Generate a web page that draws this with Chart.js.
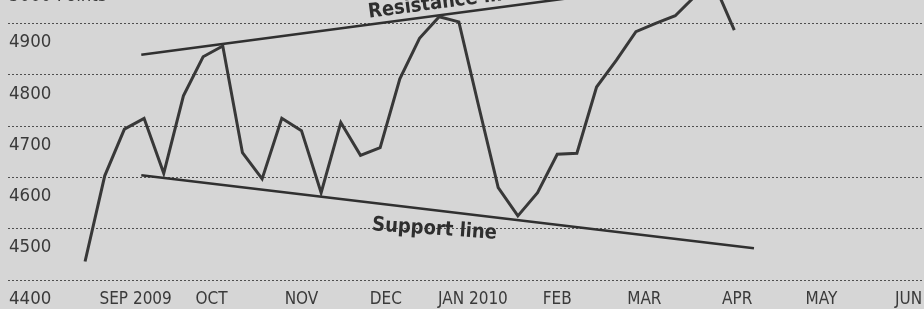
<!DOCTYPE html>
<html><head><meta charset="utf-8">
<script src="https://cdn.jsdelivr.net/npm/chart.js@4.4.1/dist/chart.umd.min.js"></script>
<style>
html,body{margin:0;padding:0;background:#d6d6d6;}
#wrap{position:relative;width:924px;height:309px;overflow:hidden;background:#d6d6d6;}
#c{position:absolute;left:0;top:-40px;}
</style></head><body>
<div id="wrap"><canvas id="c" width="924" height="349"></canvas></div>
<script>
// Weekly closes (Fridays)
const weekDates = ['2009-08-28','2009-09-04','2009-09-11','2009-09-18','2009-09-25',
  '2009-10-02','2009-10-09','2009-10-16','2009-10-23','2009-10-30',
  '2009-11-06','2009-11-13','2009-11-20','2009-11-27',
  '2009-12-04','2009-12-11','2009-12-18','2009-12-25',
  '2010-01-01','2010-01-08','2010-01-15','2010-01-22','2010-01-29',
  '2010-02-05','2010-02-12','2010-02-19','2010-02-26',
  '2010-03-05','2010-03-12','2010-03-19','2010-03-26',
  '2010-04-02','2010-04-09','2010-04-16'];
const closeValues = [4436,4603,4694,4715,4608,4759,4835,4856,4648,4597,
  4715,4691,4570,4707,4643,4658,4792,4871,4913,4903,
  4740,4580,4525,4570,4645,4647,4776,4828,4884,4900,
  4915,4953,4975,4887];
// Trend lines
const resistanceDates = ['2009-09-17','2010-04-16'];
const resistanceValues = [4839,4992];
const supportDates = ['2009-09-17','2010-04-23'];
const supportValues = [4604,4462];
// Axis ticks
const monthTickDates = ['2009-09-15','2009-10-12','2009-11-13','2009-12-13','2010-01-13',
  '2010-02-12','2010-03-15','2010-04-17','2010-05-17','2010-06-17'];
const monthTickLabels = ['SEP 2009','OCT','NOV','DEC','JAN 2010','FEB','MAR','APR','MAY','JUN'];
const yTickValues = [4400,4500,4600,4700,4800,4900,5000];
const yTopLabel = '5000 Points';
const xStartDate = '2009-07-31T14:00:00Z';
const xEndDate = '2010-06-22T12:00:00Z';

const day = s => Date.parse(s.length===10 ? s+'T00:00:00Z' : s)/864e5;
const pts = (ds, vs) => ds.map((d,i)=>({x:day(d), y:vs[i]}));

const FONT = "'DejaVu Sans Condensed','Liberation Sans Narrow',sans-serif";
const INK = '#3a3a3a';

const annotations = [
  {text:'Resistance line', date:'2009-12-07', value:4911, alongLine:[resistanceDates,resistanceValues]},
  {text:'Support line', date:'2009-12-08', value:4497, angleDeg:4}
];

const annotPlugin = {
  id:'annot',
  afterDatasetsDraw(chart){
    const {ctx, scales:{x,y}} = chart;
    ctx.save();
    // unit label for the top (5000) tick, sitting just under its gridline
    ctx.fillStyle = INK;
    ctx.font = "18.5px " + FONT;
    ctx.textAlign = 'left';
    ctx.textBaseline = 'alphabetic';
    ctx.fillText(yTopLabel, x.left + 1, y.getPixelForValue(5000) + 29);

    ctx.fillStyle = '#2e2e2e';
    ctx.font = "bold 20px " + FONT;
    annotations.forEach(a=>{
      let ang;
      if (a.alongLine){
        const [ds,vs] = a.alongLine;
        const x1=x.getPixelForValue(day(ds[0])), y1=y.getPixelForValue(vs[0]);
        const x2=x.getPixelForValue(day(ds[1])), y2=y.getPixelForValue(vs[1]);
        ang = Math.atan2(y2-y1, x2-x1);
      } else ang = a.angleDeg*Math.PI/180;
      const px = x.getPixelForValue(day(a.date)), py = y.getPixelForValue(a.value);
      ctx.save();
      ctx.translate(px,py);
      ctx.rotate(ang);
      ctx.fillText(a.text,0,0);
      ctx.restore();
    });
    ctx.restore();
  }
};

new Chart(document.getElementById('c'), {
  type:'line',
  data:{datasets:[
    {data:pts(weekDates,closeValues), borderColor:'#383838', borderWidth:3, pointRadius:0, tension:0},
    {data:pts(resistanceDates,resistanceValues), borderColor:'#303030', borderWidth:2.6, pointRadius:0},
    {data:pts(supportDates,supportValues), borderColor:'#303030', borderWidth:2.6, pointRadius:0}
  ]},
  options:{
    responsive:false, animation:false,
    layout:{padding:0},
    plugins:{legend:{display:false}, tooltip:{enabled:false}},
    scales:{
      x:{type:'linear', min:day(xStartDate), max:day(xEndDate),
        afterFit(s){s.height=29;},
        afterBuildTicks(s){s.ticks = monthTickDates.map(d=>({value:day(d)}));},
        grid:{display:false}, border:{display:false},
        ticks:{autoSkip:false, maxRotation:0, padding:1, color:INK,
          font:{family:FONT, size:17},
          callback:(v,i)=>monthTickLabels[i]}
      },
      y:{min:4400, max:5000,
        afterFit(s){s.width=8;},
        afterBuildTicks(s){s.ticks = yTickValues.map(v=>({value:v}));},
        grid:{color:'rgba(45,45,45,0.8)', lineWidth:1, drawTicks:false},
        border:{display:false, dash:[2,2]},
        ticks:{mirror:true, padding:1, labelOffset:19, autoSkip:false, color:INK,
          font:{family:FONT, size:18.5},
          callback:v=> v===5000 ? '' : String(v)}
      }
    }
  },
  plugins:[annotPlugin]
});
</script>
</body></html>
